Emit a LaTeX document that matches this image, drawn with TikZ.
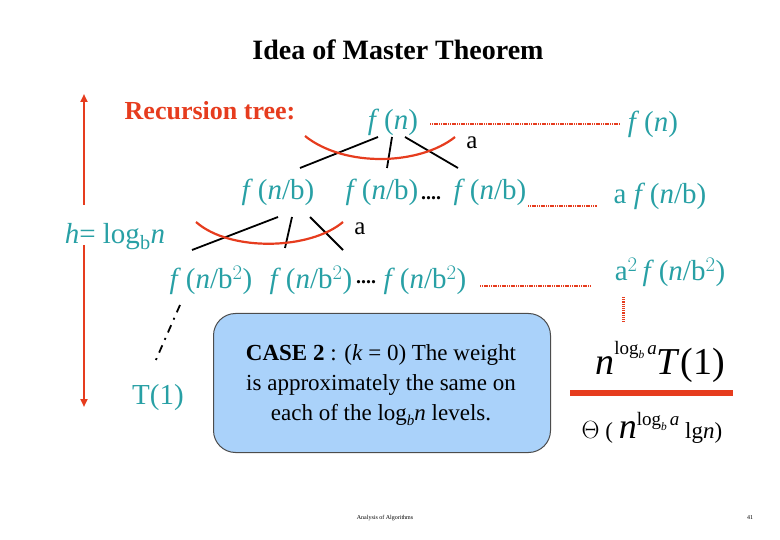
\documentclass[tikz,border=0pt]{standalone}
\usepackage{fontspec}
\setmainfont{Liberation Serif}
\usetikzlibrary{arrows.meta}
\definecolor{teal1}{RGB}{40,160,165}
\definecolor{red1}{RGB}{230,60,30}
\definecolor{box1}{RGB}{170,210,250}
\newcommand{\fI}{\textit{f}\,}
\newcommand{\nI}{\textit{n}}
\newcommand{\logba}[1]{\raisebox{0.55em}{\fontsize{#1}{#1}\selectfont log\raisebox{-0.25em}{\fontsize{0.6\dimexpr#1pt}{1}\selectfont\textit{b}}\,\textit{a}}}
\tikzset{x=1pt,y=-1pt,
 fx/.style={text=teal1,font=\fontsize{29}{32}\selectfont,inner sep=0},
 tl/.style={line width=1.8pt},
 arc1/.style={red1,line width=2.2pt},
 dl/.style={red1,line width=2.5pt,dash pattern=on 1.2pt off 0.6pt}}
\begin{document}
\begin{tikzpicture}
\useasboundingbox (0,0) rectangle (780,540);
\node (title) at (398,50) {\fontsize{28}{30}\selectfont\bfseries Idea of Master Theorem};
\node (rt) at (210,111) [text=red1] {\fontsize{26}{28}\selectfont\bfseries Recursion tree:};
% level 1
\node[fx] (f1) at (393,122) {\fI(\nI)};
\node[fx] (f1r) at (653,124) {\fI(\nI)};
\draw[dl] (430,124) -- (620,124);
\draw[tl] (378,137) -- (300,168);
\draw[tl] (392,137) -- (387,168);
\draw[tl] (405,137) -- (458,168);
\draw[arc1] (305,136) .. controls (345,168) and (420,165) .. (455,137);
\node (a1) at (472,143) {\fontsize{25}{27}\selectfont a};
% level 2
\node[fx] (f21) at (278,192) {\fI(\nI/b)};
\node[fx] (f22) at (382,192) {\fI(\nI/b)};
\node[fx] (f23) at (490,192) {\fI(\nI/b)};
\node (dots2) at (431,198) {\fontsize{20}{22}\selectfont\bfseries ....};
\draw[dl,line width=1.8pt] (528,206) -- (597,206);
\node[fx] (f2r) at (660,196) {a \fI(\nI/b)};
\node[fx] (h) at (115,237) {\textit{h}= log$_\mathrm{b}$\nI};
\draw[tl] (278,217) -- (192,250);
\draw[tl] (292,217) -- (285,248);
\draw[tl] (310,217) -- (343,250);
\draw[arc1] (196,222) .. controls (230,252) and (310,250) .. (343,222);
\node (a2) at (360,229) {\fontsize{25}{27}\selectfont a};
% level 3
\node[fx] (f31) at (211,280) {\fI(\nI/b$^2$)};
\node[fx] (f32) at (311,280) {\fI(\nI/b$^2$)};
\node[fx] (f33) at (425,280) {\fI(\nI/b$^2$)};
\node (dots3) at (366,282) {\fontsize{20}{22}\selectfont\bfseries ....};
\draw[dl,line width=1.8pt] (480,286) -- (590,286);
\node[fx] (f3r) at (670,272) {a$^2$\,\fI(\nI/b$^2$)};
\draw[dl,line width=3pt,dash pattern=on 1.2pt off 1pt] (623,297) -- (623,322);
\draw[line width=1.8pt,dash pattern=on 8pt off 6pt on 2pt off 6pt] (180,305) -- (155,362);
\node[fx] (t1) at (158,398) {T(1)};
% height arrows
\draw[red1,line width=2pt,-{Triangle[length=8pt,width=7pt]}] (84,205) -- (84,94);
\draw[red1,line width=2pt,-{Triangle[length=8pt,width=7pt]}] (84,245) -- (84,407);
% box
\node[draw=black!70,line width=1pt,fill=box1,rounded corners=22pt,minimum width=337pt,minimum height=139pt,anchor=north west,inner sep=0] (box) at (213,313) {};
\node[align=center,font=\fontsize{23}{30}\selectfont] (bt) at (381,385) {\textbf{CASE 2} : (\textit{k} = 0) The weight\\ is approximately the same on\\ each of the log\raisebox{-0.2em}{\fontsize{15}{15}\selectfont\textit{b}}\textit{n} levels.};
% right
\node (nT) at (660,362) {\fontsize{38}{40}\selectfont \textit{n}\logba{19}\textit{T}(1)};
\draw[red1,line width=5pt] (570,393) -- (733,393);
\node (th) at (652,428) {\fontsize{23}{26}\selectfont $\Theta$ ( {\fontsize{36}{36}\selectfont\textit{n}}\logba{19} lg\textit{n})};
\node (foot) at (385,518) {\fontsize{6}{7}\selectfont Analysis of Algorithms};
\node (pg) at (750,518) {\fontsize{6}{7}\selectfont 41};
\end{tikzpicture}
\end{document}
